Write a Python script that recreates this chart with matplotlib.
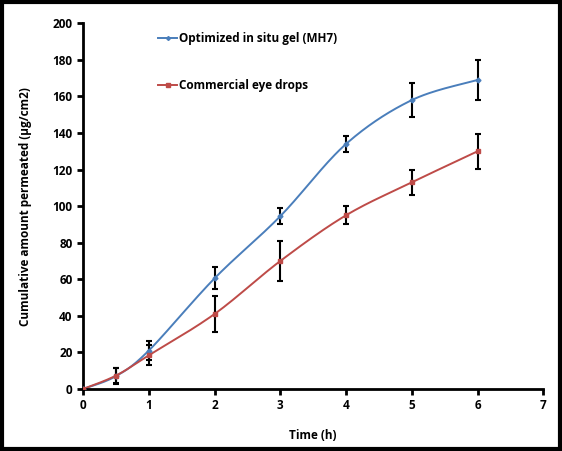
import numpy as np
import matplotlib
matplotlib.use('Agg')
import matplotlib.pyplot as plt
from matplotlib.patches import Rectangle

time_h = [0, 0.5, 1, 2, 3, 4, 5, 6]
gel_mh7 = [0, 7, 21, 60.5, 94.5, 134, 158, 169]
gel_err = [0, 4.5, 5, 6, 4.5, 4.5, 9.5, 11]
eye_drops = [0, 7.3, 18.4, 41, 70, 95, 113, 130]
drops_err = [0, 4, 5.5, 10, 11, 5, 7, 9.5]

plt.rcParams['font.family'] = ['Open Sans', 'DejaVu Sans']
plt.rcParams['font.weight'] = 'bold'


def smooth_curve(x, y, n=30):
    """Excel-like smoothed line: cubic bezier with 1/6 tangents"""
    x = np.asarray(x, float)
    y = np.asarray(y, float)
    px = np.concatenate([[x[0]], x, [x[-1]]])
    py = np.concatenate([[y[0]], y, [y[-1]]])
    xs, ys = [], []
    t = np.linspace(0, 1, n)
    for i in range(1, len(px) - 2):
        p0 = np.array([px[i], py[i]])
        p3 = np.array([px[i + 1], py[i + 1]])
        p1 = p0 + (np.array([px[i + 1], py[i + 1]]) - np.array([px[i - 1], py[i - 1]])) / 6
        p2 = p3 - (np.array([px[i + 2], py[i + 2]]) - np.array([px[i], py[i]])) / 6
        b = ((1 - t) ** 3)[:, None] * p0 + (3 * (1 - t) ** 2 * t)[:, None] * p1 \
            + (3 * (1 - t) * t ** 2)[:, None] * p2 + (t ** 3)[:, None] * p3
        xs.extend(b[:, 0])
        ys.extend(b[:, 1])
    return xs, ys


fig = plt.figure(figsize=(5.62, 4.51), dpi=100)
ax = fig.add_axes([0.1477, 0.1375, 0.819, 0.8108])

blue = '#4a7ebb'
red = '#be4b48'

for y, err, c, m, ms, name in [(gel_mh7, gel_err, blue, 'D', 2.5, 'Optimized in situ gel (MH7)'),
                               (eye_drops, drops_err, red, 's', 3.5, 'Commercial eye drops')]:
    sx, sy = smooth_curve(time_h, y)
    ax.plot(sx, sy, color=c, lw=1.4, zorder=2)
    ax.errorbar(time_h, y, yerr=err, fmt='none', ecolor='black', elinewidth=1.5,
                capsize=2.5, capthick=1.5, zorder=3)
    ax.plot(time_h, y, ls='none', marker=m, ms=ms, color=c, zorder=4)
    ax.plot([], [], color=c, lw=1.4, marker=m, ms=ms, label=name)

ax.set_xlim(0, 7)
ax.set_ylim(0, 200)
ax.set_xticks(range(0, 8))
ax.set_yticks(range(0, 201, 20))
ax.spines['top'].set_visible(False)
ax.spines['right'].set_visible(False)
ax.spines['left'].set_linewidth(2)
ax.spines['bottom'].set_linewidth(2)
ax.tick_params(direction='out', width=2, length=4, labelsize=8.5)
for lbl in ax.get_xticklabels() + ax.get_yticklabels():
    lbl.set_fontweight('bold')

ax.set_xlabel('Time (h)', fontsize=8.5, fontweight='bold', labelpad=12)
ax.set_ylabel('Cumulative amount permeated (µg/cm2)', fontsize=8.5, fontweight='bold', labelpad=15)

ax.legend(loc='upper left', bbox_to_anchor=(0.14, 1.005), frameon=False, fontsize=8.5,
          handlelength=1.6, handletextpad=0.15, labelspacing=2.9, markerscale=0.8)

fig.add_artist(Rectangle((0.003, 0.004), 0.994, 0.992, transform=fig.transFigure,
                         fill=False, edgecolor='black', lw=3))

fig.savefig('out.png', dpi=100)
